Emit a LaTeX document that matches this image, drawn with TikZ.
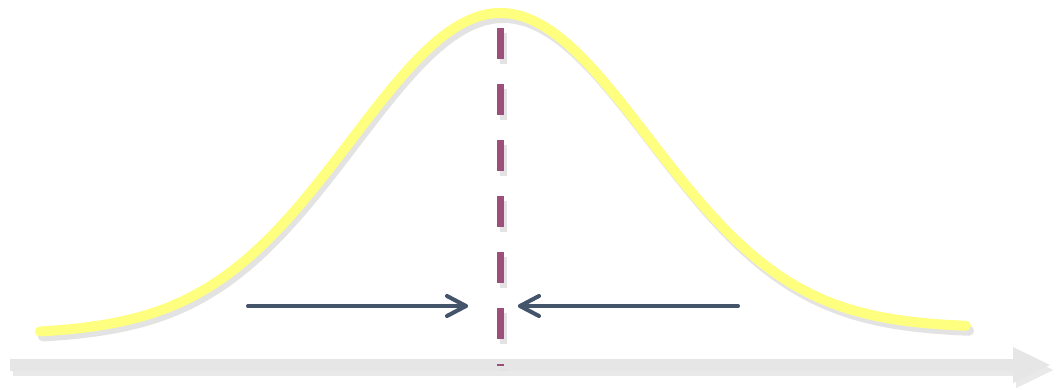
\documentclass[tikz,border=0pt]{standalone}
\usetikzlibrary{calc}
\definecolor{curveyellow}{HTML}{FFFF7F}
\definecolor{shadowgray}{HTML}{E3E3E3}
\definecolor{axisgray}{HTML}{E6E6E6}
\definecolor{dashpurple}{HTML}{9C4F7A}
\definecolor{arrowslate}{HTML}{44546A}
\tikzset{
  curvestyle/.style={line width=10pt, line cap=round, line join=round},
  meanstyle/.style={line width=7pt, dash pattern=on 31pt off 25pt},
  pointer/.style={line width=4pt, line cap=round, line join=round, arrowslate},
  pointershadow/.style={line width=4pt, line cap=round, line join=round, shadowgray},
}
\begin{document}
\begin{tikzpicture}[x=1pt,y=-1pt]
\useasboundingbox (0,0) rectangle (1058,389);
% axis with shadow
\coordinate (axstart) at (10,365);
\coordinate (axend) at (1050,365);
\fill[shadowgray!80] ($(axstart)+(3,5)$) -- ++(1003,0) -- ++(0,-3) -- ++(0,-15) -- ($(axend)+(3,5)$) -- ++(-37,18) -- ++(0,-18) -- ++(-1003,0) -- cycle;
\fill[shadowgray!80] ($(axstart)+(3,-1)$) rectangle ++(1003,12);
\fill[shadowgray!80] ($(axend)+(-34,-13)$) -- ($(axend)+(3,5)$) -- ($(axend)+(-34,23)$) -- cycle;
\fill[axisgray] ($(axstart)+(0,-6)$) -- ++(1003,0) -- ++(0,-12) -- (axend) -- ++(-37,18) -- ++(0,-12) -- ++(-1003,0) -- cycle;
% curve shadow
\draw[curvestyle, shadowgray, shift={(3,5)}] plot[domain=40:966, samples=160] (\x, {334 - 6*(\x-40)/926 - 318*exp(-0.5*((\x-500)/148)^2)});
% curve
\draw[curvestyle, curveyellow] plot[domain=40:966, samples=160] (\x, {334 - 6*(\x-40)/926 - 318*exp(-0.5*((\x-500)/148)^2)});
% mean line
\coordinate (meantop) at (500,28);
\coordinate (meanbot) at (500,366);
\draw[meanstyle, shadowgray] ($(meantop)+(3,5)$) -- ($(meanbot)+(3,5)$);
\draw[meanstyle, dashpurple] (meantop) -- (meanbot);
% left pointer
\coordinate (ltail) at (248,306);
\coordinate (ltip) at (466,306);
\coordinate (rtail) at (738,306);
\coordinate (rtip) at (520,306);
\begin{scope}[shift={(3,6)}]
\draw[pointershadow] (ltail) -- (ltip);
\draw[pointershadow] ($(ltip)+(-19,-10)$) -- (ltip) -- ($(ltip)+(-19,10)$);
\draw[pointershadow] (rtail) -- (rtip);
\draw[pointershadow] ($(rtip)+(19,-10)$) -- (rtip) -- ($(rtip)+(19,10)$);
\end{scope}
\draw[pointer] (ltail) -- (ltip);
\draw[pointer] ($(ltip)+(-19,-10)$) -- (ltip) -- ($(ltip)+(-19,10)$);
\draw[pointer] (rtail) -- (rtip);
\draw[pointer] ($(rtip)+(19,-10)$) -- (rtip) -- ($(rtip)+(19,10)$);
\end{tikzpicture}
\end{document}
